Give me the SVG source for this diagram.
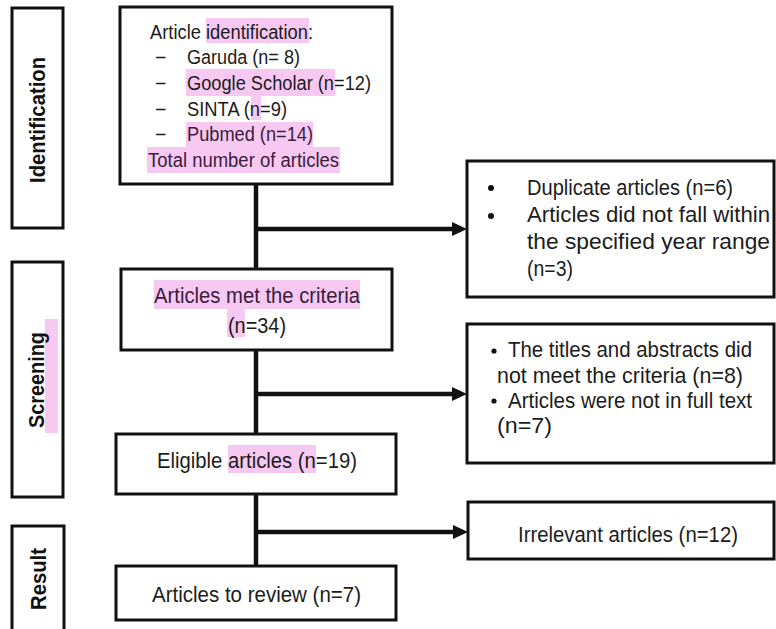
<svg xmlns="http://www.w3.org/2000/svg" width="776" height="629" viewBox="0 0 776 629">
<style>
  .box { fill: #ffffff; stroke: #111111; stroke-width: 3; }
  .t { font-family: "Liberation Sans", Arial, sans-serif; fill: #1c1c1c; }
  .lbl { font-family: "Liberation Sans", Arial, sans-serif; font-weight: bold; font-size: 22px; fill: #111111; }
  .hl { fill: #3a1d3c; }
  .mark { fill: #f6c8f2; }
  .con { stroke: #111111; stroke-width: 4.5; fill: none; }
  .head { fill: #111111; }
</style>
<rect width="776" height="629" fill="#ffffff"/>

<g id="stage-identification">
  <rect class="box" x="12" y="8" width="51" height="220"/>
  <text class="lbl" transform="translate(45,120) rotate(-90)" text-anchor="middle" textLength="126" lengthAdjust="spacingAndGlyphs">Identification</text>
</g>
<g id="stage-screening">
  <rect class="box" x="12" y="262" width="51" height="235"/>
  <rect class="mark" x="45" y="319" width="13" height="114"/>
  <text class="lbl" transform="translate(44,380) rotate(-90)" text-anchor="middle" textLength="96" lengthAdjust="spacingAndGlyphs">Screening</text>
</g>
<g id="stage-result">
  <rect class="box" x="12" y="526" width="52" height="110"/>
  <text class="lbl" transform="translate(46,579) rotate(-90)" text-anchor="middle" textLength="62" lengthAdjust="spacingAndGlyphs">Result</text>
</g>

<g id="connectors">
  <line class="con" x1="256" y1="184" x2="256" y2="269"/>
  <line class="con" x1="256" y1="350" x2="256" y2="434"/>
  <line class="con" x1="256" y1="494" x2="256" y2="566"/>
  <line class="con" x1="256" y1="229" x2="454" y2="229"/>
  <polygon class="head" points="452,222 467,229 452,236"/>
  <line class="con" x1="256" y1="394" x2="454" y2="394"/>
  <polygon class="head" points="452,387 467,394 452,401"/>
  <line class="con" x1="256" y1="532" x2="455" y2="532"/>
  <polygon class="head" points="453,525 468,532 453,539"/>
</g>

<g id="node-identification">
  <rect class="box" x="120" y="7" width="272" height="177"/>
  <rect class="mark" x="206" y="18" width="103" height="25"/>
  <rect class="mark" x="186" y="69" width="149" height="27"/>
  <rect class="mark" x="251" y="96" width="10" height="24"/>
  <rect class="mark" x="186" y="122" width="127" height="25"/>
  <rect class="mark" x="147" y="147" width="193" height="26"/>
  <text class="t" font-size="19.5" x="150" y="39" textLength="163" lengthAdjust="spacingAndGlyphs">Article identification:</text>
  <text class="t" font-size="19.5" x="155" y="64">−</text>
  <text class="t" font-size="19.5" x="155" y="90">−</text>
  <text class="t" font-size="19.5" x="155" y="116">−</text>
  <text class="t" font-size="19.5" x="155" y="141">−</text>
  <text class="t" font-size="19.5" x="187" y="64" textLength="113" lengthAdjust="spacingAndGlyphs">Garuda (n= 8)</text>
  <text class="t" font-size="19.5" x="187" y="90" textLength="184" lengthAdjust="spacingAndGlyphs">Google Scholar (n=12)</text>
  <text class="t" font-size="19.5" x="187" y="116" textLength="100" lengthAdjust="spacingAndGlyphs">SINTA (n=9)</text>
  <text class="t hl" font-size="19.5" x="187" y="141" textLength="126" lengthAdjust="spacingAndGlyphs">Pubmed (n=14)</text>
  <text class="t hl" font-size="19.5" x="148" y="167" textLength="191" lengthAdjust="spacingAndGlyphs">Total number of articles</text>
</g>

<g id="node-excluded-1">
  <rect class="box" x="467" y="161" width="307" height="136"/>
  <circle cx="491" cy="188" r="3" fill="#111"/>
  <circle cx="491" cy="216" r="3" fill="#111"/>
  <text class="t" font-size="22" x="527" y="195" textLength="206" lengthAdjust="spacingAndGlyphs">Duplicate articles (n=6)</text>
  <text class="t" font-size="22" x="527" y="222" textLength="243" lengthAdjust="spacingAndGlyphs">Articles did not fall within</text>
  <text class="t" font-size="22" x="527" y="249" textLength="243" lengthAdjust="spacingAndGlyphs">the specified year range</text>
  <text class="t" font-size="22" x="527" y="276" textLength="46" lengthAdjust="spacingAndGlyphs">(n=3)</text>
</g>

<g id="node-screened">
  <rect class="box" x="121" y="269" width="271" height="81"/>
  <rect class="mark" x="154" y="280" width="206" height="29"/>
  <rect class="mark" x="227" y="309" width="18" height="28"/>
  <text class="t hl" font-size="22.5" x="154" y="303" textLength="206" lengthAdjust="spacingAndGlyphs">Articles met the criteria</text>
  <text class="t" font-size="22.5" x="228" y="333" textLength="58" lengthAdjust="spacingAndGlyphs">(n=34)</text>
</g>

<g id="node-excluded-2">
  <rect class="box" x="467" y="324" width="307" height="139"/>
  <circle cx="494" cy="351" r="2.6" fill="#111"/>
  <circle cx="494" cy="401" r="2.6" fill="#111"/>
  <text class="t" font-size="22.5" x="508" y="357" textLength="244" lengthAdjust="spacingAndGlyphs">The titles and abstracts did</text>
  <text class="t" font-size="22.5" x="497" y="383" textLength="246" lengthAdjust="spacingAndGlyphs">not meet the criteria (n=8)</text>
  <text class="t" font-size="22.5" x="508" y="408" textLength="244" lengthAdjust="spacingAndGlyphs">Articles were not in full text</text>
  <text class="t" font-size="22.5" x="497" y="433" textLength="55" lengthAdjust="spacingAndGlyphs">(n=7)</text>
</g>

<g id="node-eligible">
  <rect class="box" x="116" y="434" width="280" height="60"/>
  <rect class="mark" x="228" y="445" width="88" height="28"/>
  <text class="t" font-size="22.5" x="157" y="468" textLength="200" lengthAdjust="spacingAndGlyphs">Eligible articles (n=19)</text>
</g>

<g id="node-irrelevant">
  <rect class="box" x="468" y="502" width="306" height="57"/>
  <text class="t" font-size="22.5" x="518" y="542" textLength="220" lengthAdjust="spacingAndGlyphs">Irrelevant articles (n=12)</text>
</g>

<g id="node-review">
  <rect class="box" x="116" y="566" width="280" height="54"/>
  <text class="t" font-size="22.5" x="152" y="602" textLength="209" lengthAdjust="spacingAndGlyphs">Articles to review (n=7)</text>
</g>
</svg>
